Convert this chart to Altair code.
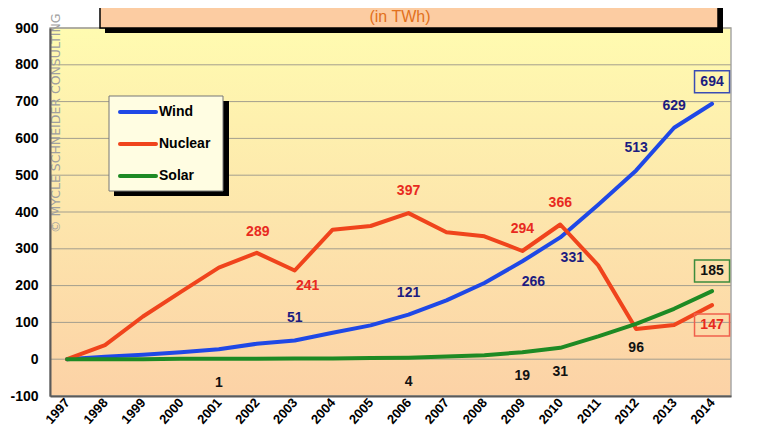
import altair as alt
import pandas as pd

# values (TWh, change since 1997)
years = list(range(1997, 2015))
wind = [0, 7, 12, 19, 27, 42, 51, 72, 92, 121, 160, 207, 266, 331, 420, 513, 629, 694]
nuclear = [0, 38, 116, 183, 249, 289, 241, 352, 362, 397, 345, 334, 294, 366, 255, 82, 93, 147]
solar = [0, 0, 0, 1, 1, 1, 2, 2, 3, 4, 7, 11, 19, 31, 62, 96, 137, 185]
series_names = ["Wind", "Nuclear", "Solar"]
y_ticks = list(range(-100, 1000, 100))

wind_label_years = [2003, 2006, 2009, 2010, 2012, 2013, 2014]
nuclear_label_years = [2002, 2003, 2006, 2009, 2010, 2014]
solar_label_years = [2001, 2006, 2009, 2010, 2012, 2014]
boxed_year = 2014

title_line = "from Wind, Solar and Nuclear"
subtitle = "(in TWh)"
y_title = "TWh"
watermark = "© MYCLE SCHNEIDER CONSULTING"

# styling
FONT = "Liberation Sans"
W, H = 681, 368
line_colors = ["#1F48E6", "#F0441C", "#1E8A24"]
text_colors = {"Wind": "#1C1C80", "Nuclear": "#E82A20", "Solar": "#111111"}
box_colors = {"Wind": "#3A4CB4", "Nuclear": "#F0604C", "Solar": "#3C8C3C"}
# label offsets in px (dx, dy) from the data point
label_offsets = {
    ("Wind", 2009): (11, 21), ("Wind", 2010): (12, 21),
    ("Nuclear", 2002): (1, -21), ("Nuclear", 2003): (13, 15), ("Nuclear", 2014): (0, 20),
    ("Solar", 2014): (0, -20),
}
default_offset = {"Wind": (0, -22), "Nuclear": (0, -22), "Solar": (0, 24)}

values = {"Wind": wind, "Nuclear": nuclear, "Solar": solar}
label_years = {"Wind": wind_label_years, "Nuclear": nuclear_label_years, "Solar": solar_label_years}

lines_df = pd.DataFrame(
    [{"year": y, "series": s, "value": v} for s in series_names for y, v in zip(years, values[s])]
)
one = pd.DataFrame({"k": [0]})

x_scale = alt.Scale(domain=[1996.55, 2014.5], nice=False, zero=False)
y_scale = alt.Scale(domain=[-100, 900], nice=False, zero=False)
color_scale = alt.Scale(domain=series_names, range=line_colors)
legend_y = alt.Scale(type="point", domain=series_names, range=[84, 148], padding=0)

x_axis = alt.Axis(values=years, format="d", labelAngle=312, labelAlign="right", labelBaseline="middle",
                  labelFont=FONT, labelFontWeight="bold", labelFontSize=13, labelColor="black",
                  labelPadding=4, labelOverlap=False, labelFlush=False, ticks=False, grid=False,
                  domainColor="#5a5a5a", domainWidth=2, title=None, zindex=1)
y_axis = alt.Axis(values=y_ticks, labelExpr="datum.value + ''", labelFont=FONT, labelFontWeight="bold",
                  labelFontSize=14, labelColor="black", labelPadding=12, ticks=False, grid=False,
                  domainColor="#5a5a5a", domainWidth=2, title=y_title, titleAngle=0,
                  titleX=-30, titleY=-23, titleFont=FONT, titleFontSize=14, titleFontWeight="bold",
                  titleColor="black", zindex=1)

bg = alt.Chart(one).mark_rect(
    fill=alt.Gradient(gradient="linear", x1=0, x2=0, y1=0, y2=1,
                      stops=[alt.GradientStop(color="#FFFBB0", offset=0),
                             alt.GradientStop(color="#FDE6AC", offset=0.5),
                             alt.GradientStop(color="#FCD2A6", offset=1)]),
    stroke="#A8A8A8", strokeWidth=1.5,
).encode(x=alt.value(0), x2=alt.value(W), y=alt.value(0), y2=alt.value(H))

grid = alt.Chart(pd.DataFrame({"v": y_ticks})).mark_rule(color="#A39E8E", strokeWidth=1).encode(
    y=alt.Y("v:Q", scale=y_scale, axis=None), x=alt.value(0), x2=alt.value(W)
)

lines = alt.Chart(lines_df).mark_line(strokeWidth=4, strokeJoin="round", strokeCap="round").encode(
    x=alt.X("year:Q", scale=x_scale, axis=x_axis),
    y=alt.Y("value:Q", scale=y_scale, axis=y_axis),
    color=alt.Color("series:N", scale=color_scale, legend=None),
)

layers = [bg, grid, lines]

for s in series_names:
    for yr in label_years[s]:
        v = values[s][years.index(yr)]
        dx, dy = label_offsets.get((s, yr), default_offset[s])
        pt = pd.DataFrame({"year": [yr], "value": [v], "label": [str(v)]})
        enc = dict(x=alt.X("year:Q", scale=x_scale, axis=x_axis),
                   y=alt.Y("value:Q", scale=y_scale, axis=None))
        if yr == boxed_year:
            layers.append(alt.Chart(pt).mark_rect(width=35, height=22, yOffset=dy, fillOpacity=0,
                                                  stroke=box_colors[s], strokeWidth=1.5).encode(**enc))
        layers.append(alt.Chart(pt).mark_text(dx=dx, dy=dy, font=FONT, fontSize=14, fontWeight="bold",
                                              color=text_colors[s]).encode(text="label:N", **enc))

# title box
layers += [
    alt.Chart(one).mark_rect(fill="black").encode(
        x=alt.value(55), x2=alt.value(673), y=alt.value(-60), y2=alt.value(5)),
    alt.Chart(one).mark_rect(fill="#FCCCA2", stroke="black", strokeWidth=1.5).encode(
        x=alt.value(50), x2=alt.value(668), y=alt.value(-60), y2=alt.value(0)),
    alt.Chart(one).mark_text(text=title_line, font=FONT, fontSize=15, fontWeight="bold",
                             color="#C8400E").encode(x=alt.value(350), y=alt.value(-31)),
    alt.Chart(one).mark_text(text=subtitle, font=FONT, fontSize=16, color="#E2701C").encode(
        x=alt.value(350), y=alt.value(-11)),
]

# legend box
legend_df = pd.DataFrame({"series": series_names})
layers += [
    alt.Chart(one).mark_rect(fill="black").encode(
        x=alt.value(64), x2=alt.value(179), y=alt.value(73), y2=alt.value(168)),
    alt.Chart(one).mark_rect(fill="#FFFDE2", stroke="#777777", strokeWidth=1).encode(
        x=alt.value(59), x2=alt.value(173), y=alt.value(68), y2=alt.value(163)),
    alt.Chart(legend_df).mark_rule(strokeWidth=4, strokeCap="round").encode(
        x=alt.value(70), x2=alt.value(106),
        y=alt.Y("series:N", scale=legend_y, axis=None),
        color=alt.Color("series:N", scale=color_scale, legend=None)),
    alt.Chart(legend_df).mark_text(align="left", baseline="middle", font=FONT, fontSize=14,
                                   fontWeight="bold", color="black").encode(
        x=alt.value(109), y=alt.Y("series:N", scale=legend_y, axis=None), text="series:N"),
]

# vertical copyright watermark
layers.append(
    alt.Chart(one).mark_text(text=watermark, angle=270, align="left", baseline="middle",
                             font="DejaVu Sans", fontSize=12.5, color="#A0A0A0").encode(
        x=alt.value(6), y=alt.value(205))
)

chart = alt.layer(*layers).resolve_scale(y="independent").properties(
    width=W, height=H,
    autosize=alt.AutoSizeParams(type="none"),
    padding={"left": 42, "top": 20, "right": 29, "bottom": 36},
).configure_view(strokeWidth=0)

chart.save("out.html", embed_options={"renderer": "svg", "actions": False})
